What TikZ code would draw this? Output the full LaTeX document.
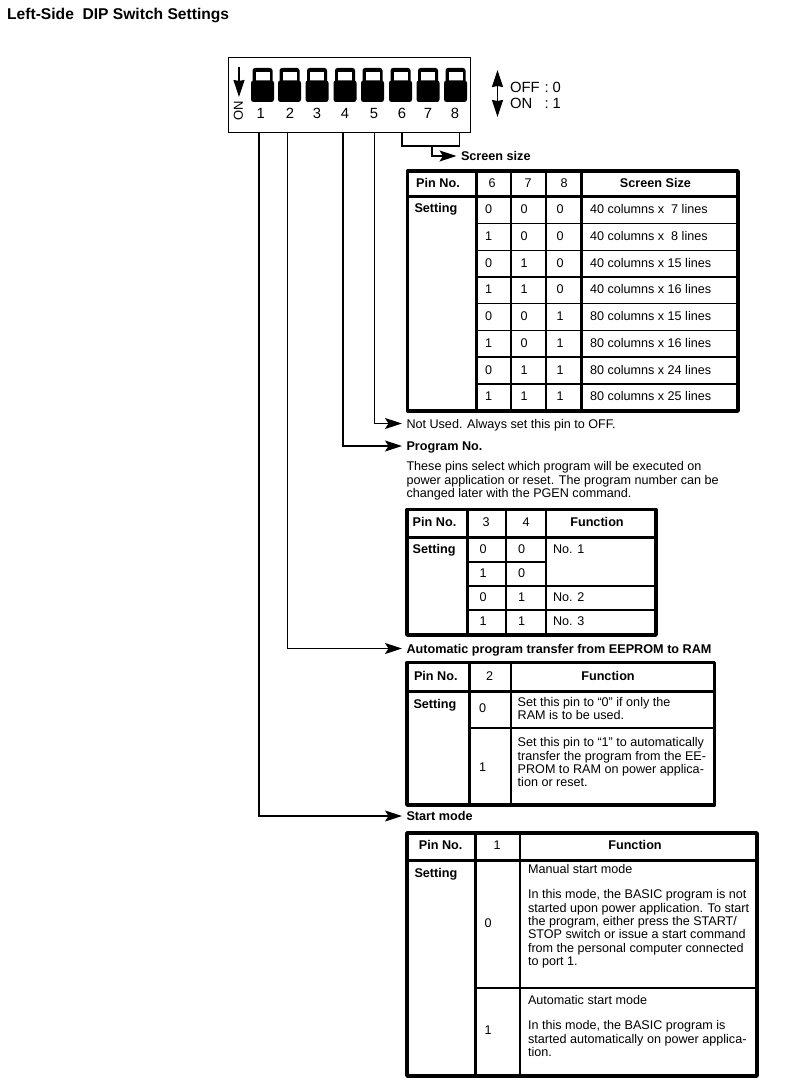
\documentclass[tikz,border=0pt]{standalone}
\usepackage{fontspec}
\setmainfont{Liberation Sans}
\usetikzlibrary{arrows.meta}
\tikzset{
  txt/.style={inner sep=0pt,outer sep=0pt,text height=9pt,text depth=0pt,font=\fontsize{12.6}{13.4}\selectfont},
  lft/.style={txt,anchor=west},
  ctr/.style={txt,anchor=center},
  hd/.style={txt,anchor=center,font=\fontsize{12.65}{13.4}\selectfont\bfseries},
  hdl/.style={hd,anchor=west},
  para/.style={inner sep=0pt,outer sep=0pt,anchor=north west,align=left,font=\fontsize{12.6}{13.4}\selectfont},
  tout/.style={line width=3.6pt,line join=round},
  tmid/.style={line width=3pt},
  tsep/.style={line width=1.6pt},
  conn/.style={line width=1.2pt,-{Stealth[length=17pt,width=11pt,inset=3.5pt]},shorten >=4.5pt},
  wire/.style={line width=1.2pt},
  sw/.style={fill=black,rounded corners=2.5pt},
  big/.style={inner sep=0pt,outer sep=0pt,font=\fontsize{14.8}{16}\selectfont},
}
\begin{document}
\begin{tikzpicture}[x=1pt,y=-1pt]
\useasboundingbox[fill=white] (0,0) rectangle (794,1089);
% title
\node[inner sep=0pt,anchor=west,font=\fontsize{15.6}{17}\selectfont\bfseries] (title) at (7,15.5) {Left-Side\ \ DIP Switch Settings};
% DIP switch
\node[draw,line width=1pt,inner sep=0pt,outer sep=0pt,anchor=north west,minimum width=242.5pt,minimum height=75pt] (dip) at (228,58) {};
\foreach \x/\n/\dx [count=\i] in {262.5/1/260.7,289.5/2/290,317/3/317,345/4/345,372.5/5/374,400.5/6/402,428/7/428,455.5/8/455}{
  \fill[sw] (\x-10,68) rectangle (\x+10,84);
  \fill[white] (\x-7,72) rectangle (\x+7,81);
  \fill[sw] (\x-11.5,80.5) rectangle (\x+11.5,102);
  \node[big,anchor=center] (num\i) at (\dx,113.5) {\n};
}
\coordinate (da1) at (239,67);
\coordinate (da2) at (239,97);
\draw[line width=1.2pt,-{Stealth[length=17pt,width=11pt,inset=1pt]}] (da1) -- (da2);
\node[inner sep=0pt,rotate=90,font=\fontsize{13}{14}\selectfont] (on) at (238.5,111) {ON};
\coordinate (ud1) at (497.5,70);
\coordinate (ud2) at (497.5,117);
\draw[line width=1.2pt,{Stealth[length=17pt,width=11pt,inset=1pt]}-{Stealth[length=17pt,width=11pt,inset=1pt]}] (ud1) -- (ud2);
\node[big,anchor=west] (off) at (510,87.5) {\makebox[34.5pt][l]{OFF}:\ 0};
\node[big,anchor=west] (onl) at (510,103.5) {\makebox[34.5pt][l]{ON}:\ 1};
% labels
\node[hdl] (screen) at (461,156) {Screen size};
\node[lft] (notused) at (406.5,423.5) {Not Used. Always set this pin to OFF.};
\node[hdl] (prog) at (406.5,446) {Program No.};
\node[para] (progtxt) at (406.5,461.5) {These pins select which program will be executed on\\power application or reset. The program number can be\\changed later with the PGEN command.};
\node[hdl] (auto) at (406.5,648.5) {Automatic program transfer from EEPROM to RAM};
\node[hdl] (start) at (406.5,816) {Start mode};
% connectors
\coordinate (p1) at (259,133);
\coordinate (p2) at (287.5,133);
\coordinate (p4) at (343,133);
\coordinate (p5) at (374.5,133);
\coordinate (p6) at (402,133);
\coordinate (p8) at (459.5,133);
\coordinate (bm) at (432,146);
\draw[wire] (p6) |- (bm) -| (p8);
\draw[conn] (bm) |- (screen.west);
\draw[conn] (p5) |- (notused.west);
\draw[conn] (p4) |- (prog.west);
\draw[conn] (p2) |- (auto.west);
\draw[conn] (p1) |- (start.west);
% table 1
\draw[tout] (407.5,171) rectangle (738,411);
\draw[tmid] (407.5,196.5) -- (738,196.5);
\draw[tmid] (476,171) -- (476,411);
\draw[tsep,line width=2pt] (510.5,171) -- (510.5,411);
\draw[tsep,line width=2pt] (546,171) -- (546,411);
\draw[tsep,line width=2.4pt] (581.5,171) -- (581.5,411);
\foreach \y in {223.5,250.5,277,303.5,330.5,357,384}{\draw[tsep] (476,\y) -- (738,\y);}
\node[hd] (h1a) at (438,183) {Pin No.};
\node[ctr] (h1b) at (492,183) {6};
\node[ctr] (h1c) at (528,183) {7};
\node[ctr] (h1d) at (564,183) {8};
\node[hd] (h1e) at (655.5,183) {Screen Size};
\node[hdl] (s1) at (414.5,208) {Setting};
\foreach \y/\a/\b/\c/\t [count=\i] in {
  208.5/0/0/0/40 columns x\ \ 7 lines,
  235.5/1/0/0/40 columns x\ \ 8 lines,
  262.5/0/1/0/40 columns x 15 lines,
  289/1/1/0/40 columns x 16 lines,
  316/0/0/1/80 columns x 15 lines,
  343/1/0/1/80 columns x 16 lines,
  369.5/0/1/1/80 columns x 24 lines,
  396/1/1/1/80 columns x 25 lines}{
  \node[ctr] (r1a\i) at (488.5,\y) {\a};
  \node[ctr] (r1b\i) at (524,\y) {\b};
  \node[ctr] (r1c\i) at (560,\y) {\c};
  \node[lft] (r1d\i) at (590,\y) {\t};
}
% table 2
\draw[tout] (407,509.5) rectangle (656,635);
\draw[tmid] (407,537) -- (656,537);
\draw[tmid] (467,509.5) -- (467,635);
\draw[tsep,line width=2pt] (506,509.5) -- (506,635);
\draw[tsep,line width=2.4pt] (546,509.5) -- (546,635);
\draw[tsep] (467,562) -- (546,562);
\draw[tsep] (467,586) -- (656,586);
\draw[tsep] (467,610) -- (656,610);
\node[hdl] (h2a) at (412.7,521.5) {Pin No.};
\node[ctr] (h2b) at (486,521.5) {3};
\node[ctr] (h2c) at (526,521.5) {4};
\node[hd] (h2d) at (597,521.5) {Function};
\node[hdl] (s2) at (412.7,549) {Setting};
\foreach \y/\a/\b [count=\i] in {549/0/0,573/1/0,597/0/1,621/1/1}{
  \node[ctr] (r2a\i) at (483,\y) {\a};
  \node[ctr] (r2b\i) at (521.7,\y) {\b};
}
\node[lft] (f2a) at (553,549) {No. 1};
\node[lft] (f2b) at (553,597) {No. 2};
\node[lft] (f2c) at (553,621) {No. 3};
% table 3
\draw[tout] (407,662.5) rectangle (714.5,805);
\draw[tmid] (407,691.5) -- (714.5,691.5);
\draw[tmid] (469.5,662.5) -- (469.5,805);
\draw[tsep,line width=2.4pt] (511,662.5) -- (511,805);
\draw[tsep] (469.5,728) -- (714.5,728);
\node[hdl] (h3a) at (414,675.5) {Pin No.};
\node[ctr] (h3b) at (489.5,675.5) {2};
\node[hd] (h3c) at (608,675.5) {Function};
\node[hdl] (s3) at (413.5,703.5) {Setting};
\node[ctr] (r3a) at (482.7,708) {0};
\node[ctr] (r3b) at (482.7,766.5) {1};
\node[para] (f3a) at (517.7,697) {Set this pin to “0” if only the\\RAM is to be used.};
\node[para] (f3b) at (517.7,737.5) {Set this pin to “1” to automatically\\transfer the program from the EE-\\PROM to RAM on power applica-\\tion or reset.};
% table 4
\draw[tout] (407,833) rectangle (757,1076);
\draw[tmid] (407,860) -- (757,860);
\draw[tmid] (475,833) -- (475,1076);
\draw[tsep,line width=2.4pt] (520,833) -- (520,1076);
\draw[tsep] (475,988) -- (757,988);
\node[hd] (h4a) at (440.7,845) {Pin No.};
\node[ctr] (h4b) at (497,845) {1};
\node[hd] (h4c) at (635,845) {Function};
\node[hdl] (s4) at (414.5,873) {Setting};
\node[ctr] (r4a) at (488,922.5) {0};
\node[ctr] (r4b) at (488,1030) {1};
\node[lft] (f4a) at (528,869) {Manual start mode};
\node[para] (f4b) at (528,889.5) {In this mode, the BASIC program is not\\started upon power application. To start\\the program, either press the START/\\STOP switch or issue a start command\\from the personal computer connected\\to port 1.};
\node[lft] (f4c) at (528,1000) {Automatic start mode};
\node[para] (f4d) at (528,1020.5) {In this mode, the BASIC program is\\started automatically on power applica-\\tion.};
\end{tikzpicture}
\end{document}
